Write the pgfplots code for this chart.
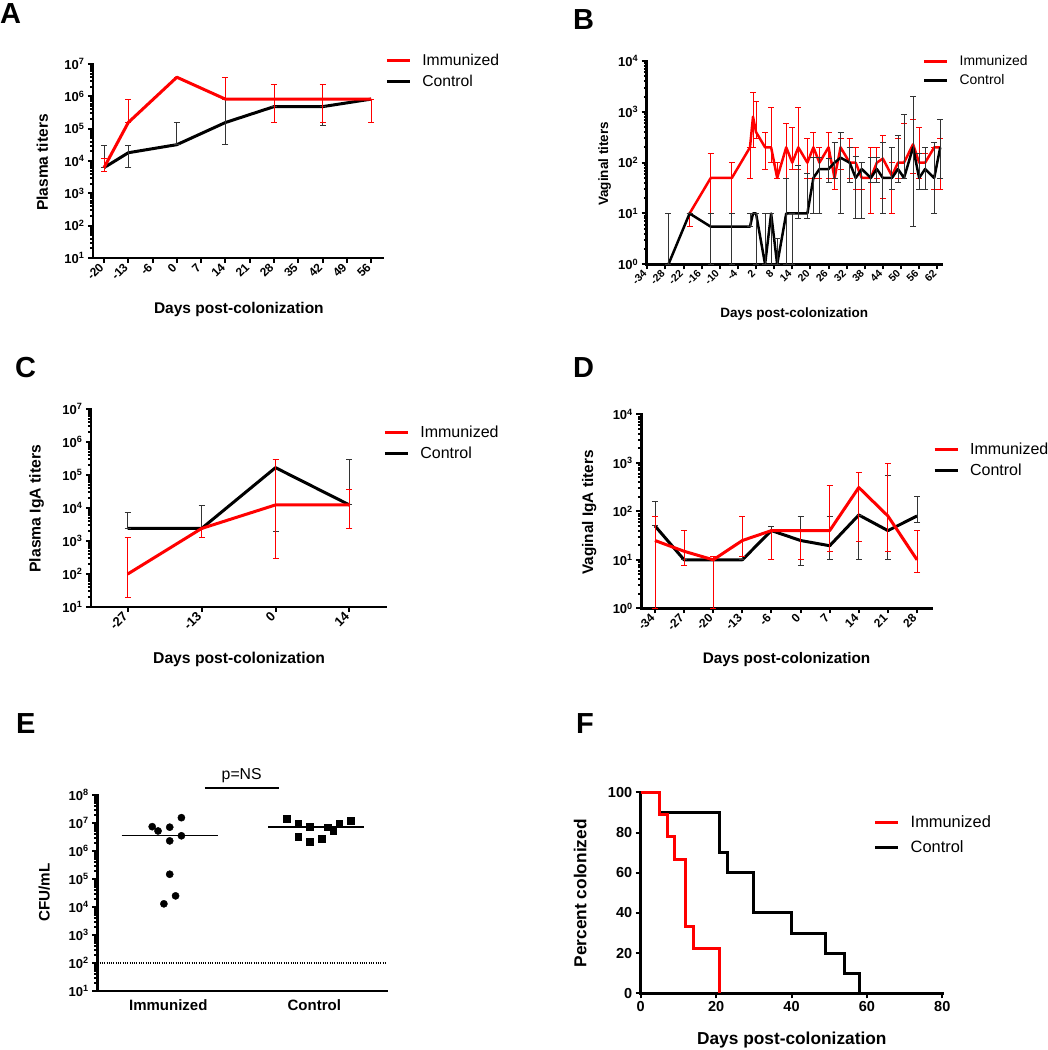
\documentclass[border=0pt]{standalone}
\usepackage{fontspec}
\setmainfont{Liberation Sans}
\usepackage{pgfplots}
\usepackage{pgfplotstable}
\pgfplotsset{compat=1.18}
\definecolor{pred}{RGB}{255,0,0}
\newcommand{\fs}[1]{\fontsize{#1}{#1}\selectfont}
\newcommand{\dec}[1]{\textbf{10\textsuperscript{#1}}}

\pgfplotstableread{
x y ep em
0 6200 5800 1400
1 155000 625000 0
3 3900000 0 0
5 820000 3080000 0
7 820000 1580000 660000
9 820000 1580000 660000
11 820000 0 660000
}\Aimm
\pgfplotstableread{
x y ep em
0 6200 23800 0
1 18000 12000 11800
3 32000 123000 0
5 155000 625000 123000
7 480000 0 0
9 480000 0 350000
11 820000 0 0
}\Actl
\pgfplotstableread{
x y ep em
-20 10 0 4.5
-13 50 100 40
-6 50 50 40
0 200 0 150
1 800 1600 600
2 400 1200 100
5 200 200 125
7 200 1000 100
9 50 50 0
12 200 400 150
14 100 400 25
16 200 1000 125
19 100 200 50
21 200 200 150
23 100 100 50
26 200 200 150
28 50 50 20
30 200 100 125
33 100 200 50
35 100 100 70
37 50 50 20
40 50 150 40
42 100 100 50
44 120 230 100
47 55 45 45
49 100 200 50
51 100 500 50
54 230 470 170
56 100 400 50
58 100 50 70
61 200 0 170
63 200 100 170
}\Bimm
\pgfplotstableread{
x y ep em
-27 1 9 0
-20 10 0 0
-13 5.5 4.5 4.5
-6 5.5 4.5 4.5
0 5.5 4.5 0
1 10 0 0
2 10 0 9
5 1 9 0
7 10 0 9
9 1 2.2 0
12 10 40 9
14 10 0 9
16 10 80 2
19 10 50 2
21 50 75 40
23 75 50 65
26 75 45 35
28 100 150 50
30 125 275 115
33 100 100 60
35 50 80 42
37 75 25 67
40 50 75 10
42 75 50 35
44 50 200 40
47 50 150 20
49 75 275 35
51 50 850 0
54 200 1800 194.5
56 50 100 20
58 75 125 45
61 50 200 40
63 200 500 150
}\Bctl
\pgfplotstableread{
x y ep em
0 100 1160 81
1 2400 0 1100
2 12400 287600 12110
3 12400 23600 10000
}\Cimm
\pgfplotstableread{
x y ep em
0 2400 4800 0
1 2400 9600 0
2 167000 133000 165100
3 12400 287600 0
}\Cctl
\pgfplotstableread{
x y ep em
0 25 55 24
1 15 25 7.3
2 10 2 9
3 25 55 13
4 40 0 30
5 40 0 30
6 40 300 25
7 310 325 286
8 80 870 65
9 10 30 4.5
}\Dimm
\pgfplotstableread{
x y ep em
0 50 108 0
1 10 0 0
2 10 0 0
3 10 2 0
4 40 8 0
5 25 53 17.4
6 19.5 58.5 9.5
7 84 0 74
8 40 520 30
9 80 120 21
}\Dctl

\pgfplotsset{
  panel/.style={
    scale only axis, anchor=south west, clip=false,
    axis lines=left,
    axis line style={-, line width=2.6pt, line cap=rect},
    tick style={line width=2pt, black},
    major tick length=5pt,
    tick align=outside,
    ticklabel style={font=\bfseries\fs{13}},
    label style={font=\bfseries\fs{15.5}},
    xlabel style={anchor=center},
    ylabel style={anchor=center},
    legend style={draw=none, fill=none, font=\fs{15.7}, anchor=north west, row sep=4pt,
      /tikz/every odd column/.append style={column sep=9pt}},
    legend cell align=left,
    legend image code/.code={\draw[##1, line width=3pt] (0pt,0pt) -- (23pt,0pt);},
  },
  redl/.style={pred, line width=#1, line join=round, mark=none, forget plot,
    /pgfplots/error bars/y dir=both, /pgfplots/error bars/y explicit,
    /pgfplots/error bars/error mark=-,
    /pgfplots/error bars/error bar style={line width=0.9pt, pred},
    /pgfplots/error bars/error mark options={rotate=90, mark size=3pt, line width=0.9pt, pred}},
  blkl/.style={black, line width=#1, line join=round, mark=none, forget plot,
    /pgfplots/error bars/y dir=both, /pgfplots/error bars/y explicit,
    /pgfplots/error bars/error mark=-,
    /pgfplots/error bars/error bar style={line width=0.9pt, black!80},
    /pgfplots/error bars/error mark options={rotate=90, mark size=3pt, line width=0.9pt, black!80}},
}

\begin{document}
\begin{tikzpicture}
\path[use as bounding box] (0pt,0pt) rectangle (1048pt,-1050pt);

% ---------------- A
\begin{axis}[panel, ymode=log, at={(93pt,-258pt)}, width=290pt, height=194pt,
  xmin=-0.453, xmax=11.49, ymin=10, ymax=1e7,
  xtick={0,...,11}, xticklabels={-20,-13,-6,0,7,14,21,28,35,42,49,56},
  xticklabel style={rotate=45, anchor=east, font=\bfseries\fs{12}},
  ytick={1e1,1e2,1e3,1e4,1e5,1e6,1e7}, minor ytick={},
  yticklabels={\dec{1},\dec{2},\dec{3},\dec{4},\dec{5},\dec{6},\dec{7}},
  xlabel={Days post-colonization}, ylabel={Plasma titers},
  xlabel style={at={(axis description cs:0.503,-0.264)}},
  ylabel style={at={(axis description cs:-0.175,0.492)}},
  legend style={at={(axis description cs:0.997,1.072)}},
]
\addlegendimage{pred}\addlegendentry{Immunized}
\addlegendimage{black}\addlegendentry{Control}
\addplot[blkl=3pt] table[x=x,y=y,y error plus=ep,y error minus=em]{\Actl};
\addplot[redl=3pt] table[x=x,y=y,y error plus=ep,y error minus=em]{\Aimm};
\end{axis}

% ---------------- B
\begin{axis}[panel, ymode=log, at={(646.7pt,-264.3pt)}, width=294.6pt, height=203.3pt,
  xmin=-34.2, xmax=63.35, ymin=1, ymax=1e4,
  xtick={-34,-28,...,62},
  /pgf/number format/assume math mode=true,
  xticklabel style={rotate=45, anchor=east, font=\bfseries\fs{10.5}},
  ytick={1,1e1,1e2,1e3,1e4}, minor ytick={},
  yticklabels={\dec{0},\dec{1},\dec{2},\dec{3},\dec{4}},
  label style={font=\bfseries\fs{13.5}},
  xlabel={Days post-colonization}, ylabel={Vaginal titers},
  xlabel style={at={(axis description cs:0.501,-0.246)}},
  ylabel style={at={(axis description cs:-0.143,0.494)}},
  legend style={at={(axis description cs:0.926,1.049)}, font=\fs{13.9}},
]
\addlegendimage{pred}\addlegendentry{Immunized}
\addlegendimage{black}\addlegendentry{Control}
\addplot[redl=2.5pt] table[x=x,y=y,y error plus=ep,y error minus=em]{\Bimm};
\addplot[blkl=2.5pt] table[x=x,y=y,y error plus=ep,y error minus=em]{\Bctl};
\end{axis}

% ---------------- C
\begin{axis}[panel, ymode=log, at={(91pt,-607pt)}, width=295pt, height=198pt,
  xmin=-0.497, xmax=3.495, ymin=10, ymax=1e7,
  xtick={0,...,3}, xticklabels={-27,-13,0,14},
  xticklabel style={rotate=45, anchor=east, font=\bfseries\fs{13}},
  ytick={1e1,1e2,1e3,1e4,1e5,1e6,1e7}, minor ytick={},
  yticklabels={\dec{1},\dec{2},\dec{3},\dec{4},\dec{5},\dec{6},\dec{7}},
  label style={font=\bfseries\fs{15.7}},
  xlabel={Days post-colonization}, ylabel={Plasma IgA titers},
  xlabel style={at={(axis description cs:0.502,-0.264)}},
  ylabel style={at={(axis description cs:-0.184,0.496)}},
  legend style={at={(axis description cs:0.98,0.936)}, font=\fs{16}},
]
\addlegendimage{pred}\addlegendentry{Immunized}
\addlegendimage{black}\addlegendentry{Control}
\addplot[blkl=3pt] table[x=x,y=y,y error plus=ep,y error minus=em]{\Cctl};
\addplot[redl=3pt] table[x=x,y=y,y error plus=ep,y error minus=em]{\Cimm};
\end{axis}

% ---------------- D
\begin{axis}[panel, ymode=log, at={(641.3pt,-608.3pt)}, width=290pt, height=194pt,
  xmin=-0.47, xmax=9.49, ymin=1, ymax=1e4,
  xtick={0,...,9}, xticklabels={-34,-27,-20,-13,-6,0,7,14,21,28},
  xticklabel style={rotate=45, anchor=east, font=\bfseries\fs{12}},
  ytick={1,1e1,1e2,1e3,1e4}, minor ytick={},
  yticklabels={\dec{0},\dec{1},\dec{2},\dec{3},\dec{4}},
  label style={font=\bfseries\fs{15.3}},
  xlabel={Days post-colonization}, ylabel={Vaginal IgA titers},
  xlabel style={at={(axis description cs:0.501,-0.263)}},
  ylabel style={at={(axis description cs:-0.180,0.494)}},
  legend style={at={(axis description cs:0.995,0.876)}, font=\fs{16}},
]
\addlegendimage{pred}\addlegendentry{Immunized}
\addlegendimage{black}\addlegendentry{Control}
\addplot[blkl=3pt] table[x=x,y=y,y error plus=ep,y error minus=em]{\Dctl};
\addplot[redl=3pt] table[x=x,y=y,y error plus=ep,y error minus=em]{\Dimm};
\end{axis}

% ---------------- E
\begin{axis}[panel, ymode=log, at={(97.3pt,-991pt)}, width=289.7pt, height=196pt,
  xmin=0.514, xmax=2.498, ymin=10, ymax=1e8,
  xtick={1,2}, xticklabels={Immunized,Control},
  x tick style={draw=none},
  xticklabel style={font=\bfseries\fs{15}},
  ytick={1e1,1e2,1e3,1e4,1e5,1e6,1e7,1e8}, minor ytick={},
  yticklabels={\dec{1},\dec{2},\dec{3},\dec{4},\dec{5},\dec{6},\dec{7},\dec{8}},
  label style={font=\bfseries\fs{15.2}},
  ylabel={CFU/mL},
  ylabel style={at={(axis description cs:-0.183,0.503)}},
]
\addplot[black, line width=1.1pt, dash pattern=on 1pt off 1.3pt] coordinates {(0.514,100) (2.498,100)};
\addplot[only marks, mark=*, mark size=3.6pt, black] coordinates {
(0.89,7.4e6) (0.93,5.2e6) (1.01,7.1e6) (1.09,1.55e7) (1.09,3.5e6)
(1.01,2.3e6) (1.01,1.48e5) (1.05,2.5e4) (0.97,1.3e4)};
\addplot[only marks, mark=square*, mark size=3.3pt, black] coordinates {
(1.81,1.4e7) (1.89,1.0e7) (1.97,7.4e6) (2.09,7.1e6) (2.17,9.8e6)
(2.25,1.18e7) (1.89,3.2e6) (1.97,2.1e6) (2.05,2.7e6) (2.13,5.2e6)};
\addplot[black, line width=1.3pt] coordinates {(0.681,3.5e6) (1.342,3.5e6)};
\addplot[black, line width=1.3pt] coordinates {(1.685,7.2e6) (2.34,7.2e6)};
\addplot[black, line width=2pt] coordinates {(1.25,1.82e8) (1.76,1.82e8)};
\node[font=\fs{15.8}] at (axis cs:1.503,5.1e8) {p=NS};
\end{axis}

% ---------------- F
\begin{axis}[panel, at={(640.7pt,-993.3pt)}, width=301.6pt, height=201pt,
  xmin=0, xmax=80, ymin=0, ymax=100,
  xtick={0,20,...,80}, ytick={0,20,...,100},
  /pgf/number format/assume math mode=true,
  ticklabel style={font=\bfseries\fs{14.5}},
  label style={font=\bfseries\fs{17.3}},
  xlabel={Days post-colonization}, ylabel={Percent colonized},
  xlabel style={at={(axis description cs:0.501,-0.232)}},
  ylabel style={at={(axis description cs:-0.201,0.4975)}},
  legend style={at={(axis description cs:0.762,0.903)}, font=\fs{16.4}, row sep=7pt},
]
\addlegendimage{pred}\addlegendentry{Immunized}
\addlegendimage{black}\addlegendentry{Control}
\addplot[const plot, black, line width=3pt, forget plot] coordinates {
(0,100) (5,90) (21,70) (23,60) (30,40) (40,30) (49,20) (54,10) (58,0)};
\addplot[const plot, pred, line width=3pt, forget plot] coordinates {
(0,100) (5,88.9) (7,77.8) (9,66.7) (12,33.3) (14,22.2) (21,0)};
\end{axis}

% panel letters
\node[anchor=base west, font=\bfseries\fs{29}, inner sep=0pt] at (0pt,-23.3pt) {A};
\node[anchor=base west, font=\bfseries\fs{29}, inner sep=0pt] at (573pt,-29pt) {B};
\node[anchor=base west, font=\bfseries\fs{29}, inner sep=0pt] at (15pt,-377pt) {C};
\node[anchor=base west, font=\bfseries\fs{29}, inner sep=0pt] at (573pt,-377pt) {D};
\node[anchor=base west, font=\bfseries\fs{29}, inner sep=0pt] at (16pt,-733pt) {E};
\node[anchor=base west, font=\bfseries\fs{29}, inner sep=0pt] at (576pt,-733pt) {F};
\end{tikzpicture}
\end{document}
